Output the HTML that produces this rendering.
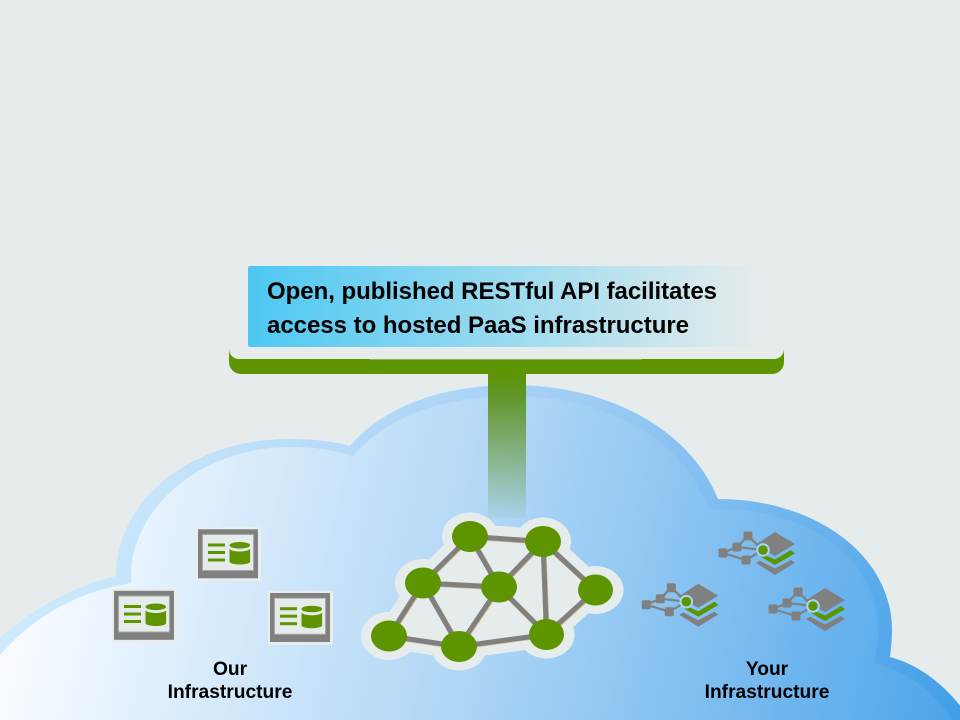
<!DOCTYPE html>
<html><head><meta charset="utf-8"><style>
html,body{margin:0;padding:0;background:#e6ecec;width:960px;height:720px;overflow:hidden}
svg{display:block}
text{font-family:"Liberation Sans",Arial,sans-serif;font-weight:bold;fill:#000}
</style></head><body>
<svg width="960" height="720" viewBox="0 0 960 720" xmlns="http://www.w3.org/2000/svg">
<defs>
<linearGradient id="bd" gradientUnits="userSpaceOnUse" x1="60" y1="480" x2="960" y2="760">
<stop offset="0" stop-color="#cfeafc"/><stop offset=".5" stop-color="#a0cdf5"/><stop offset="1" stop-color="#3f9de6"/></linearGradient>
<linearGradient id="fl" gradientUnits="userSpaceOnUse" x1="40" y1="560" x2="950" y2="780">
<stop offset="0" stop-color="#f7fbff"/><stop offset=".5" stop-color="#a9d3f5"/><stop offset="1" stop-color="#4ba4ea"/></linearGradient>
<linearGradient id="ban" x1="0" x2="1" y1="0" y2="0">
<stop offset="0" stop-color="#4dc8f2"/><stop offset="1" stop-color="#e6ecec"/></linearGradient>
<linearGradient id="stem" x1="0" x2="0" y1="0" y2="1">
<stop offset="0" stop-color="#5e9400"/><stop offset=".15" stop-color="#5f9526"/><stop offset="1" stop-color="#5f9526" stop-opacity=".05"/></linearGradient>
<g id="srv">
<rect x="196" y="527" width="65" height="54" rx="2" fill="#e8eeec"/>
<rect x="198" y="529.300" width="60" height="49" fill="#808080"/>
<rect x="202.500" y="534.500" width="51" height="36" fill="#e6ecec" stroke="#a8a8a8" stroke-width="1"/>
<g fill="#5e9400"><rect x="208" y="543.500" width="17" height="3"/><rect x="208" y="551" width="17" height="3"/><rect x="208" y="558.500" width="17" height="3"/>
<path d="M229.500 549v12.500c0 1.800 4.600 3 10.300 3s10.300-1.200 10.300-3V549c-2 1.800-6 2.500-10.300 2.500s-8.300-.7-10.300-2.500z"/>
<ellipse cx="239.800" cy="545.300" rx="10.300" ry="3.300"/></g>
</g>
<g id="net">
<g stroke="#808080" stroke-width="2.200" fill="none"><path d="M-40 3L-26-3L-15-14L0 0L-26-3M-40 3L-17 10L0 0"/></g>
<g fill="#808080"><rect x="-44.500" y="-1.500" width="9" height="9" rx="1.500"/><rect x="-30.500" y="-7.500" width="9" height="9" rx="1.500"/><rect x="-19.500" y="-18.500" width="9" height="9" rx="1.500"/><rect x="-21.500" y="5.500" width="9" height="9" rx="1.500"/>
<path d="M12-18L32-6L12 6L-8-5z"/><path d="M-7 13L-3 10.700L12 18.500L28 10L32 12.700L12 25z"/></g>
<path d="M-2 7L0 4.300L12 9.500L28 0L32 3.300L12 15z" fill="#5e9400"/>
<circle r="6.800" fill="#a5d6f5"/>
<circle r="4.800" fill="#5e9400"/>
</g>
</defs>
<rect width="960" height="720" fill="#e6ecec"/>

<!-- cloud -->
<path fill="url(#bd)" d="M-10 646C30 610 70 587 116 576C116 500 190 439 290 439C312 439 332 441 350 446C385 405 445 385 512 385C610 385 690 430 718 499C815 499 892 555 892 630C892 640 891 648 890 657C920 665 945 685 965 712V725H-10z"/>
<path fill="url(#fl)" d="M-10 668C25 620 75 592 131 583C127 510 200 447 290 447C315 447 335 450 353 456C388 415 447 396 512 396C605 396 685 440 708 509C800 505 878 555 878 630C878 642 876 652 874 663C910 672 938 695 955 725H-10z"/>

<!-- stem and tray -->
<rect x="488" y="372" width="38" height="146" fill="url(#stem)"/>
<path d="M229 347H784V362A12 12 0 0 1 772 374H241A12 12 0 0 1 229 362z" fill="#5e9400"/>
<path d="M229 345H784V349A10 10 0 0 1 774 359H239A10 10 0 0 1 229 349z" fill="#e6ecec"/>
<rect x="370" y="359" width="272" height="1" fill="#8fb356"/>
<rect x="248" y="266" width="512" height="81" rx="2" fill="url(#ban)"/>
<text x="267" y="299" font-size="24" textLength="450" lengthAdjust="spacing">Open, published RESTful API facilitates</text>
<text x="267" y="333" font-size="24" textLength="422" lengthAdjust="spacing">access to hosted PaaS infrastructure</text>

<!-- mesh -->
<polygon points="389,636 423,583 470,536.500 543,541.500 595.500,590 546.500,634.500 459,646.500" fill="#e6ecec" stroke="#e6ecec" stroke-width="25" stroke-linejoin="round"/>
<g fill="#e6ecec"><ellipse cx="470" cy="536.500" rx="28" ry="24"/><ellipse cx="543" cy="541.500" rx="28" ry="24"/><ellipse cx="423" cy="583" rx="28" ry="24"/><ellipse cx="595.500" cy="590" rx="28" ry="24"/><ellipse cx="389" cy="636" rx="28" ry="24"/><ellipse cx="459" cy="646.500" rx="28" ry="24"/><ellipse cx="546.500" cy="634.500" rx="28" ry="24"/></g>
<path stroke="#d5b985" stroke-width="5.600" fill="none" transform="translate(.4 .4)" d="M470 536.500L543 541.500M470 536.500L423 583M470 536.500L499 587M543 541.500L499 587M543 541.500L546.500 634.500M543 541.500L595.500 590M423 583L499 587M423 583L389 636M423 583L459 646.500M499 587L459 646.500M499 587L546.500 634.500M595.500 590L546.500 634.500M389 636L459 646.500M459 646.500L546.500 634.500"/>
<path stroke="#808080" stroke-width="5" fill="none" d="M470 536.500L543 541.500M470 536.500L423 583M470 536.500L499 587M543 541.500L499 587M543 541.500L546.500 634.500M543 541.500L595.500 590M423 583L499 587M423 583L389 636M423 583L459 646.500M499 587L459 646.500M499 587L546.500 634.500M595.500 590L546.500 634.500M389 636L459 646.500M459 646.500L546.500 634.500"/>
<g fill="#5e9400"><ellipse cx="470" cy="536.500" rx="18" ry="15.500"/><ellipse cx="543" cy="541.500" rx="18" ry="15.500"/><ellipse cx="423" cy="583" rx="18" ry="15.500"/><ellipse cx="499" cy="587" rx="18" ry="15.500"/><ellipse cx="595.500" cy="590" rx="17.500" ry="15.500"/><ellipse cx="389" cy="636" rx="18" ry="15.500"/><ellipse cx="459" cy="646.500" rx="18" ry="15.500"/><ellipse cx="546.500" cy="634.500" rx="17.500" ry="15.500"/></g>

<!-- server icons -->
<use href="#srv"/>
<use href="#srv" transform="translate(-84 61.500)"/>
<use href="#srv" transform="translate(72 63.700)"/>

<!-- network icons -->
<use href="#net" transform="translate(763 550)"/>
<use href="#net" transform="translate(686.300 601.700)"/>
<use href="#net" transform="translate(813 606)"/>

<!-- labels -->
<g font-size="19.200" text-anchor="middle">
<text x="230" y="675">Our</text>
<text x="230" y="698">Infrastructure</text>
<text x="767" y="675">Your</text>
<text x="767" y="698">Infrastructure</text>
</g>
</svg>
</body></html>
